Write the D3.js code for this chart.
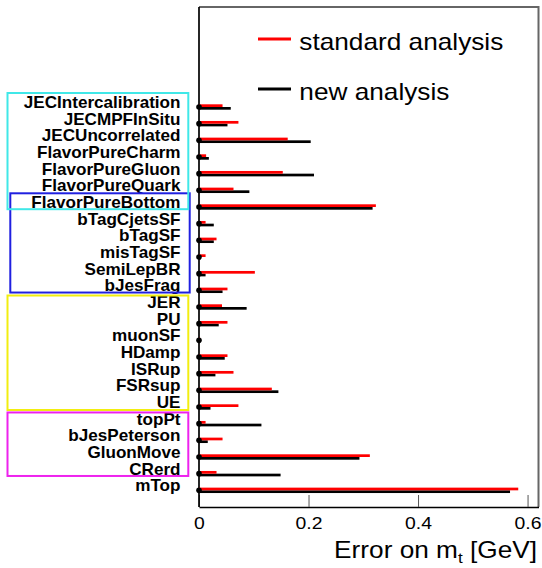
<html>
  <head>
    <meta charset="utf-8" />
    <script src="https://d3js.org/d3.v7.min.js"></script>
  </head>
  <style>
    body {
      margin: 0;
      background: #ffffff;
    }
    svg {
      width: 542px;
      height: 568px;
      font-family: "Liberation Sans", Arial, sans-serif;
    }
  </style>
  <body>
    <svg></svg>
    <script>
      // systematic sources, top to bottom
      const categories = [
        "JECIntercalibration", "JECMPFInSitu", "JECUncorrelated", "FlavorPureCharm",
        "FlavorPureGluon", "FlavorPureQuark", "FlavorPureBottom", "bTagCjetsSF",
        "bTagSF", "misTagSF", "SemiLepBR", "bJesFrag", "JER", "PU", "muonSF",
        "HDamp", "ISRup", "FSRsup", "UE", "topPt", "bJesPeterson", "GluonMove",
        "CRerd", "mTop"
      ];
      const standardAnalysis = [
        0.043, 0.072, 0.162, 0.013, 0.153, 0.063, 0.323, 0.012, 0.032, 0.012, 0.102, 0.052,
        0.042, 0.052, 0.002, 0.052, 0.063, 0.133, 0.072, 0.012, 0.043, 0.312, 0.032, 0.583
      ];
      const newAnalysis = [
        0.058, 0.052, 0.204, 0.018, 0.210, 0.092, 0.317, 0.027, 0.027, 0.003, 0.012, 0.043,
        0.087, 0.036, 0.002, 0.047, 0.030, 0.145, 0.021, 0.114, 0.016, 0.293, 0.149, 0.568
      ];
      const xTicks = [0, 0.2, 0.4, 0.6];
      const groups = [
        { first: "FlavorPureBottom", last: "bJesFrag", color: "#2020e0" },
        { first: "JECIntercalibration", last: "FlavorPureBottom", color: "#40e8e8" },
        { first: "JER", last: "UE", color: "#f2ee10" },
        { first: "topPt", last: "CRerd", color: "#ee22ee" }
      ];
      // box extents in the left margin (px)
      const boxStyle = {
        "#40e8e8": { left: 7.5, right: 188.3, padTop: 14, padBottom: 2.2 },
        "#2020e0": { left: 10.3, right: 189.7, padTop: 13.7, padBottom: 2.2 },
        "#f2ee10": { left: 7.5, right: 188.3, padTop: 11.5, padBottom: 3 },
        "#ee22ee": { left: 7.5, right: 188.3, padTop: 11.2, padBottom: 2.3 }
      };

      const stretch = "scale(1.14,1)";
      const svg = d3.select("svg");

      const xScale = d3.scaleLinear().domain([0, 0.62]).range([199, 538.5]);
      const yScale = d3.scaleLinear().domain([0, 30]).range([507, 7]);
      const row = (name) => categories.length - categories.indexOf(name);

      // frame top/right (grey)
      svg.append("path")
        .attr("d", `M${xScale(0)},${yScale(30)}H${xScale(0.62)}V${yScale(0)}`)
        .attr("fill", "none")
        .attr("stroke", "#666")
        .attr("stroke-width", 2);

      // x axis
      const xAxis = d3.axisBottom(xScale)
        .tickValues(xTicks)
        .tickFormat(d3.format("~g"))
        .tickSize(-12)
        .tickSizeOuter(0)
        .tickPadding(10);
      const gx = svg.append("g").attr("transform", `translate(0,${yScale(0)})`).call(xAxis);
      gx.select(".domain").attr("stroke", "#000").attr("stroke-width", 1.5);
      gx.selectAll(".tick line").attr("stroke", "#555");
      gx.selectAll(".tick text")
        .attr("font-size", 17)
        .attr("font-family", "Liberation Sans, Arial, sans-serif")
        .attr("fill", "#000")
        .attr("transform", stretch);

      // left axis line
      svg.append("line")
        .attr("x1", xScale(0)).attr("x2", xScale(0))
        .attr("y1", yScale(0)).attr("y2", yScale(30))
        .attr("stroke", "#000")
        .attr("stroke-width", 1.7);

      // axis title
      const title = svg.append("text")
        .attr("transform", `translate(537,558) ${stretch}`)
        .attr("text-anchor", "end")
        .attr("font-size", 23);
      title.append("tspan").text("Error on m");
      title.append("tspan").attr("font-size", 15).attr("dy", 5).text("t");
      title.append("tspan").attr("dy", -5).text(" [GeV]");

      // bars: new analysis below row, standard above
      svg.selectAll("rect.new")
        .data(categories)
        .enter()
        .append("rect")
        .attr("class", "new")
        .attr("x", xScale(0))
        .attr("y", (d) => yScale(row(d)))
        .attr("width", (d, i) => xScale(newAnalysis[i]) - xScale(0))
        .attr("height", 2.7)
        .attr("fill", "#000");

      svg.selectAll("rect.std")
        .data(categories)
        .enter()
        .append("rect")
        .attr("class", "std")
        .attr("x", xScale(0))
        .attr("y", (d) => yScale(row(d)) - 2.7)
        .attr("width", (d, i) => xScale(standardAnalysis[i]) - xScale(0))
        .attr("height", 2.7)
        .attr("fill", "#ff0000");

      svg.selectAll("circle.marker")
        .data(categories)
        .enter()
        .append("circle")
        .attr("class", "marker")
        .attr("cx", xScale(0))
        .attr("cy", (d) => yScale(row(d)))
        .attr("r", 2.8)
        .attr("fill", "#000");

      // category labels
      svg.selectAll("text.label")
        .data(categories)
        .enter()
        .append("text")
        .attr("class", "label")
        .attr("transform", (d) => `translate(180.5,${yScale(row(d)) + 1}) scale(1.07,1)`)
        .attr("text-anchor", "end")
        .attr("font-size", 16)
        .attr("font-weight", "bold")
        .attr("fill", "#000")
        .text((d) => d);

      // group boxes
      groups.forEach((g) => {
        const s = boxStyle[g.color];
        const top = yScale(row(g.first)) - s.padTop;
        const bottom = yScale(row(g.last)) + s.padBottom;
        svg.append("rect")
          .attr("x", s.left)
          .attr("y", top)
          .attr("width", s.right - s.left)
          .attr("height", bottom - top)
          .attr("fill", "none")
          .attr("stroke", g.color)
          .attr("stroke-width", 2);
      });

      // legend
      const legend = [
        { name: "standard analysis", color: "#ff0000", y: 39 },
        { name: "new analysis", color: "#000000", y: 89 }
      ];
      legend.forEach((l) => {
        svg.append("line")
          .attr("x1", 258).attr("x2", 291)
          .attr("y1", l.y).attr("y2", l.y)
          .attr("stroke", l.color)
          .attr("stroke-width", 3);
        svg.append("text")
          .attr("transform", `translate(299.3,${l.y + 10.5}) ${stretch}`)
          .attr("font-size", 23)
          .attr("fill", "#000")
          .text(l.name);
      });
    </script>
  </body>
</html>
